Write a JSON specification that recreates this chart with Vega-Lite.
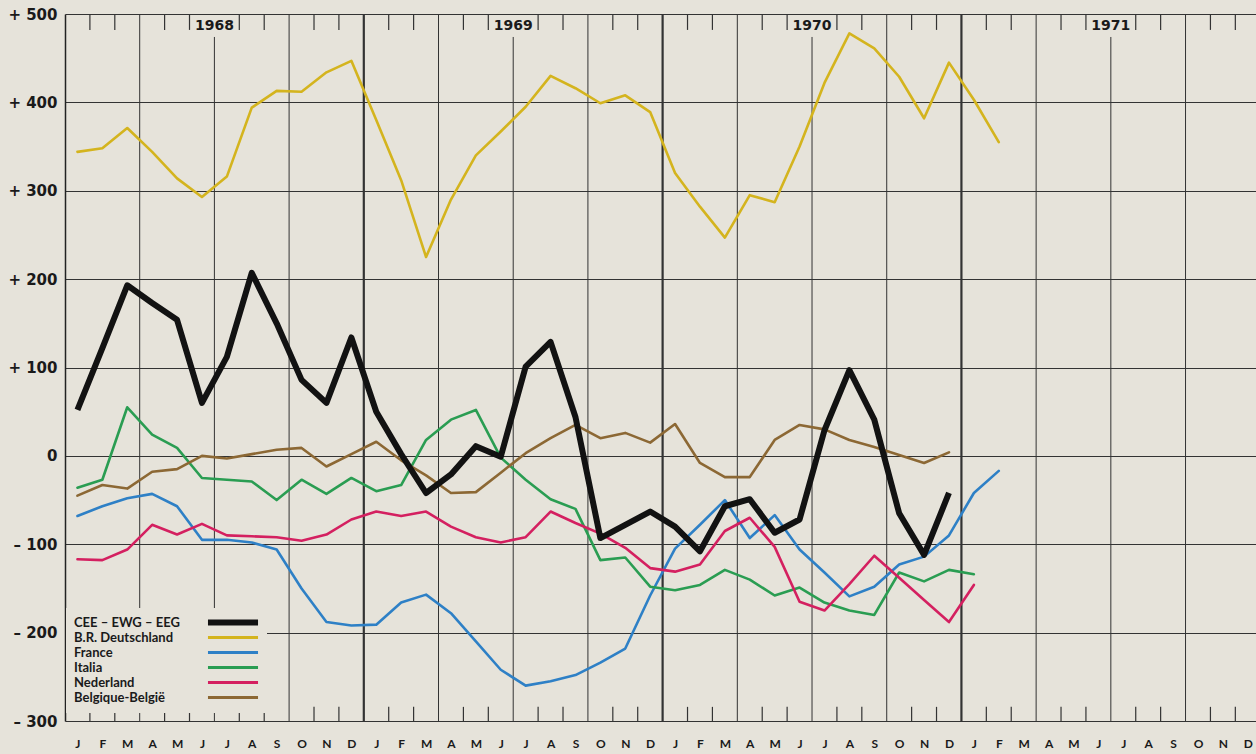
{
  "$schema": "https://vega.github.io/schema/vega-lite/v6.json",
  "autosize": {"type": "none"},
  "padding": {"left": 65, "top": 14, "right": 0, "bottom": 33},
  "width": 1191,
  "height": 707,
  "background": "#e6e3da",
  "config": {
    "view": {"stroke": null},
    "axisX": {"labelOverlap": false, "labelFlush": false},
    "axisY": {"labelOverlap": false, "labelFlush": false}
  },
  "datasets": {
    "series": [
      {"m": 0, "cee": 52, "brd": 344, "fr": -68, "it": -36, "nl": -117, "be": -45},
      {"m": 1, "cee": 122, "brd": 348, "fr": -57, "it": -27, "nl": -118, "be": -33},
      {"m": 2, "cee": 193, "brd": 371, "fr": -48, "it": 55, "nl": -106, "be": -37},
      {"m": 3, "cee": 173, "brd": 344, "fr": -43, "it": 24, "nl": -78, "be": -18},
      {"m": 4, "cee": 154, "brd": 314, "fr": -57, "it": 9, "nl": -89, "be": -15},
      {"m": 5, "cee": 60, "brd": 293, "fr": -95, "it": -25, "nl": -77, "be": 0},
      {"m": 6, "cee": 112, "brd": 316, "fr": -95, "it": -27, "nl": -90, "be": -3},
      {"m": 7, "cee": 207, "brd": 394, "fr": -98, "it": -29, "nl": -91, "be": 2},
      {"m": 8, "cee": 150, "brd": 413, "fr": -106, "it": -50, "nl": -92, "be": 7},
      {"m": 9, "cee": 86, "brd": 412, "fr": -150, "it": -27, "nl": -96, "be": 9},
      {"m": 10, "cee": 60, "brd": 434, "fr": -188, "it": -43, "nl": -89, "be": -12},
      {"m": 11, "cee": 134, "brd": 447, "fr": -192, "it": -25, "nl": -72, "be": 2},
      {"m": 12, "cee": 50, "brd": 380, "fr": -191, "it": -40, "nl": -63, "be": 16},
      {"m": 13, "cee": 2, "brd": 312, "fr": -166, "it": -33, "nl": -68, "be": -5},
      {"m": 14, "cee": -42, "brd": 225, "fr": -157, "it": 18, "nl": -63, "be": -22},
      {"m": 15, "cee": -21, "brd": 290, "fr": -178, "it": 41, "nl": -80, "be": -42},
      {"m": 16, "cee": 11, "brd": 340, "fr": -210, "it": 52, "nl": -92, "be": -41},
      {"m": 17, "cee": -1, "brd": 367, "fr": -242, "it": -2, "nl": -98, "be": -19},
      {"m": 18, "cee": 101, "brd": 395, "fr": -260, "it": -27, "nl": -92, "be": 3},
      {"m": 19, "cee": 129, "brd": 430, "fr": -255, "it": -49, "nl": -63, "be": 20},
      {"m": 20, "cee": 44, "brd": 416, "fr": -248, "it": -60, "nl": -76, "be": 35},
      {"m": 21, "cee": -93, "brd": 399, "fr": -234, "it": -118, "nl": -88, "be": 20},
      {"m": 22, "cee": -78, "brd": 408, "fr": -218, "it": -115, "nl": -104, "be": 26},
      {"m": 23, "cee": -63, "brd": 389, "fr": -158, "it": -148, "nl": -127, "be": 15},
      {"m": 24, "cee": -80, "brd": 320, "fr": -105, "it": -152, "nl": -131, "be": 36},
      {"m": 25, "cee": -108, "brd": 282, "fr": -78, "it": -146, "nl": -123, "be": -8},
      {"m": 26, "cee": -57, "brd": 247, "fr": -50, "it": -129, "nl": -85, "be": -24},
      {"m": 27, "cee": -49, "brd": 295, "fr": -93, "it": -140, "nl": -70, "be": -24},
      {"m": 28, "cee": -87, "brd": 287, "fr": -67, "it": -158, "nl": -103, "be": 18},
      {"m": 29, "cee": -72, "brd": 350, "fr": -106, "it": -149, "nl": -165, "be": 35},
      {"m": 30, "cee": 29, "brd": 422, "fr": -132, "it": -166, "nl": -175, "be": 30},
      {"m": 31, "cee": 97, "brd": 478, "fr": -159, "it": -175, "nl": -145, "be": 18},
      {"m": 32, "cee": 41, "brd": 461, "fr": -148, "it": -180, "nl": -113, "be": 10},
      {"m": 33, "cee": -65, "brd": 429, "fr": -123, "it": -132, "nl": -138, "be": 1},
      {"m": 34, "cee": -112, "brd": 382, "fr": -114, "it": -142, "nl": -163, "be": -8},
      {"m": 35, "cee": -42, "brd": 445, "fr": -90, "it": -129, "nl": -188, "be": 4},
      {"m": 36, "brd": 403, "fr": -42, "it": -134, "nl": -146},
      {"m": 37, "brd": 355, "fr": -17}
    ],
    "bounds": [
      {"b": 0.5}, {"b": 1.5}, {"b": 2.5}, {"b": 3.5}, {"b": 4.5}, {"b": 5.5}, {"b": 6.5}, {"b": 7.5},
      {"b": 8.5}, {"b": 9.5}, {"b": 10.5}, {"b": 11.5}, {"b": 12.5}, {"b": 13.5}, {"b": 14.5}, {"b": 15.5},
      {"b": 16.5}, {"b": 17.5}, {"b": 18.5}, {"b": 19.5}, {"b": 20.5}, {"b": 21.5}, {"b": 22.5}, {"b": 23.5},
      {"b": 24.5}, {"b": 25.5}, {"b": 26.5}, {"b": 27.5}, {"b": 28.5}, {"b": 29.5}, {"b": 30.5}, {"b": 31.5},
      {"b": 32.5}, {"b": 33.5}, {"b": 34.5}, {"b": 35.5}, {"b": 36.5}, {"b": 37.5}, {"b": 38.5}, {"b": 39.5},
      {"b": 40.5}, {"b": 41.5}, {"b": 42.5}, {"b": 43.5}, {"b": 44.5}, {"b": 45.5}, {"b": 46.5}
    ],
    "years": [
      {"b": 5.5, "year": "1968"},
      {"b": 17.5, "year": "1969"},
      {"b": 29.5, "year": "1970"},
      {"b": 41.5, "year": "1971"}
    ]
  },
  "layer": [
    {
      "data": {"name": "bounds"},
      "transform": [{"filter": "(datum.b + 0.5) % 3 == 0 && (datum.b + 0.5) % 12 != 6"}],
      "mark": {"type": "rule", "color": "#333333"},
      "encoding": {
        "x": {
          "field": "b", "type": "quantitative", "title": null,
          "scale": {"domain": [-0.5, 47.33], "nice": false, "zero": false},
          "axis": {
            "values": [0,1,2,3,4,5,6,7,8,9,10,11,12,13,14,15,16,17,18,19,20,21,22,23,24,25,26,27,28,29,30,31,32,33,34,35,36,37,38,39,40,41,42,43,44,45,46,47],
            "tickCount": 48,
            "labelExpr": "['J','F','M','A','M','J','J','A','S','O','N','D'][round(datum.value) % 12]",
            "tickSize": 0, "domain": false, "grid": false,
            "labelFont": "Lato", "labelFontWeight": "bold", "labelFontSize": 12, "labelColor": "#1a1a1a",
            "labelPadding": 17, "labelOverlap": false, "labelFlush": false, "labelSeparation": 0
          }
        },
        "y": {
          "datum": -300, "type": "quantitative",
          "scale": {"domain": [-300, 500], "nice": false, "zero": false},
          "axis": {
            "title": null,
            "values": [-300, -200, -100, 0, 100, 200, 300, 400, 500],
            "labelExpr": "datum.value > 0 ? '+ ' + datum.value : (datum.value < 0 ? '\u2013 ' + abs(datum.value) : '0')",
            "tickSize": 0, "labelPadding": 8,
            "labelFont": "DejaVu Sans", "labelFontWeight": "bold", "labelFontSize": 15, "labelColor": "#1a1a1a",
            "domain": true, "domainColor": "#222222", "domainWidth": 1.5,
            "grid": true, "gridColor": "#333333", "gridWidth": 1, "gridOpacity": 1,
            "labelOverlap": false, "labelFlush": false
          }
        },
        "y2": {"datum": 500},
        "strokeWidth": {"condition": {"test": "(datum.b + 0.5) % 12 == 0", "value": 2.2}, "value": 1}
      }
    },
    {
      "data": {"name": "bounds"},
      "transform": [{"filter": "(datum.b + 0.5) % 12 == 6"}],
      "mark": {"type": "rule", "color": "#333333", "strokeWidth": 1},
      "encoding": {
        "x": {"field": "b", "type": "quantitative", "title": null},
        "y": {"datum": -300, "type": "quantitative"},
        "y2": {"datum": 474}
      }
    },
    {
      "data": {"name": "bounds"},
      "transform": [{"filter": "(datum.b + 0.5) % 3 != 0"}],
      "mark": {"type": "rule", "color": "#333333", "strokeWidth": 1.2},
      "encoding": {
        "x": {"field": "b", "type": "quantitative", "title": null},
        "y": {"datum": 500, "type": "quantitative"},
        "y2": {"datum": 482}
      }
    },
    {
      "data": {"name": "bounds"},
      "transform": [{"filter": "(datum.b + 0.5) % 3 != 0"}],
      "mark": {"type": "rule", "color": "#333333", "strokeWidth": 1.2},
      "encoding": {
        "x": {"field": "b", "type": "quantitative", "title": null},
        "y": {"datum": -300, "type": "quantitative"},
        "y2": {"datum": -284}
      }
    },
    {
      "data": {"name": "years"},
      "mark": {"type": "text", "font": "DejaVu Sans", "fontWeight": "bold", "fontSize": 14, "color": "#1a1a1a", "baseline": "middle", "align": "center"},
      "encoding": {
        "x": {"field": "b", "type": "quantitative", "title": null},
        "y": {"datum": 486, "type": "quantitative"},
        "text": {"field": "year"}
      }
    },
    {
      "data": {"name": "series"},
      "transform": [
        {"fold": ["brd", "fr", "it", "nl", "be", "cee"], "as": ["s", "v"]},
        {"filter": "isValid(datum.v) && datum.s != 'cee'"}
      ],
      "mark": {"type": "line", "strokeWidth": 2.6, "strokeJoin": "round", "strokeCap": "round"},
      "encoding": {
        "x": {"field": "m", "type": "quantitative", "title": null},
        "y": {"field": "v", "type": "quantitative", "title": null},
        "color": {
          "field": "s", "type": "nominal",
          "scale": {
            "domain": ["cee", "brd", "fr", "it", "nl", "be"],
            "range": ["#121212", "#d4b41e", "#2e80c6", "#2a9d52", "#d42060", "#8c6834"]
          },
          "legend": {
            "title": null,
            "orient": "none", "legendX": 1, "legendY": 594,
            "fillColor": "#e6e3da", "padding": 8,
            "symbolType": "M-4.17,-0.25H4.17V0.25H-4.17Z", "symbolSize": 144, "symbolStrokeWidth": 0,
            "symbolOffset": 152.5,
            "labelFont": "Lato", "labelFontWeight": "bold", "labelFontSize": 13, "labelColor": "#1a1a1a",
            "labelAlign": "left", "labelOffset": -165.5, "rowPadding": 1,
            "labelExpr": "datum.value == 'cee' ? 'CEE \u2013 EWG \u2013 EEG' : datum.value == 'brd' ? 'B.R. Deutschland' : datum.value == 'fr' ? 'France' : datum.value == 'it' ? 'Italia' : datum.value == 'nl' ? 'Nederland' : 'Belgique-Belgi\u00eb'",
            "encode": {"symbols": {"update": {
              "shape": {"signal": "datum.value == 'cee' ? 'M-4.17,-0.5H4.17V0.5H-4.17Z' : 'M-4.17,-0.25H4.17V0.25H-4.17Z'"},
              "fill": {"signal": "scale('color', datum.value)"},
              "fillOpacity": {"value": 1},
              "strokeWidth": {"value": 0}
            }}}
          }
        }
      }
    },
    {
      "data": {"name": "series"},
      "transform": [
        {"fold": ["cee"], "as": ["s", "v"]},
        {"filter": "isValid(datum.v)"}
      ],
      "mark": {"type": "line", "strokeWidth": 6, "strokeJoin": "round", "strokeCap": "butt"},
      "encoding": {
        "x": {"field": "m", "type": "quantitative", "title": null},
        "y": {"field": "v", "type": "quantitative", "title": null},
        "color": {"field": "s", "type": "nominal"}
      }
    },
    {
      "mark": {"type": "rule", "color": "#151515", "strokeWidth": 4},
      "encoding": {"y": {"datum": -300, "type": "quantitative"}}
    }
  ]
}
